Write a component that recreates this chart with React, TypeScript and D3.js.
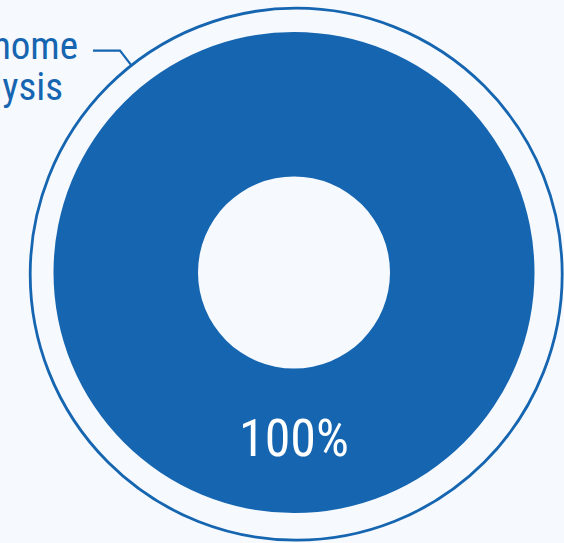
import React from "react";
import * as d3 from "d3";

const categories = ["Home dialysis"];
const values = [100];
const labelLines = ["at home", "dialysis"];
const valueLabels = ["100%"];

const W = 564;
const H = 543;
const BLUE = "#1565b1";
const BG = "#f6f9fd";
const FONT = "'Liberation Sans Narrow', 'Roboto Condensed', 'DejaVu Sans Condensed', sans-serif";

export default function App() {
  const cx = 294;
  const cy = 272.5;
  const outerR = 240.5;
  const innerR = 96;

  const pie = d3.pie<number>().sort(null).value((d) => d);
  const arcs = pie(values);
  const arc = d3.arc<d3.PieArcDatum<number>>().innerRadius(innerR).outerRadius(outerR);

  // ring (outer guide circle)
  const ringCx = 296.2;
  const ringCy = 274.2;
  const ringR = 266;

  // leader line: from ring toward label
  const ang = -2.239;
  const px = ringCx + ringR * Math.cos(ang);
  const py = ringCy + ringR * Math.sin(ang);
  const leader = d3.line()([
    [px, py],
    [120, 50.7],
    [93, 50.7],
  ]);

  return (
    <div style={{ position: "fixed", left: 0, top: 0, width: W, height: H, background: BG }}>
      <svg width={W} height={H} style={{ display: "block" }}>
        <rect x={0} y={0} width={W} height={H} fill={BG} />
        <circle cx={ringCx} cy={ringCy} r={ringR} fill="none" stroke={BLUE} strokeWidth={2.8} />
        <g transform={`translate(${cx},${cy})`}>
          {arcs.map((a, i) => (
            <path key={categories[i]} d={arc(a) || ""} fill={BLUE} />
          ))}
        </g>
        <text
          x={cx}
          y={456}
          textAnchor="middle"
          fill="#ffffff"
          fontFamily={FONT}
          fontSize={52}
        >
          {valueLabels[0]}
        </text>
        <path d={leader || ""} fill="none" stroke={BLUE} strokeWidth={2.2} />
        <text fontFamily={FONT} fontSize={39} fill={BLUE} textAnchor="end">
          <tspan x={78} y={59}>{labelLines[0]}</tspan>
          <tspan x={63} y={100}>{labelLines[1]}</tspan>
        </text>
      </svg>
    </div>
  );
}
